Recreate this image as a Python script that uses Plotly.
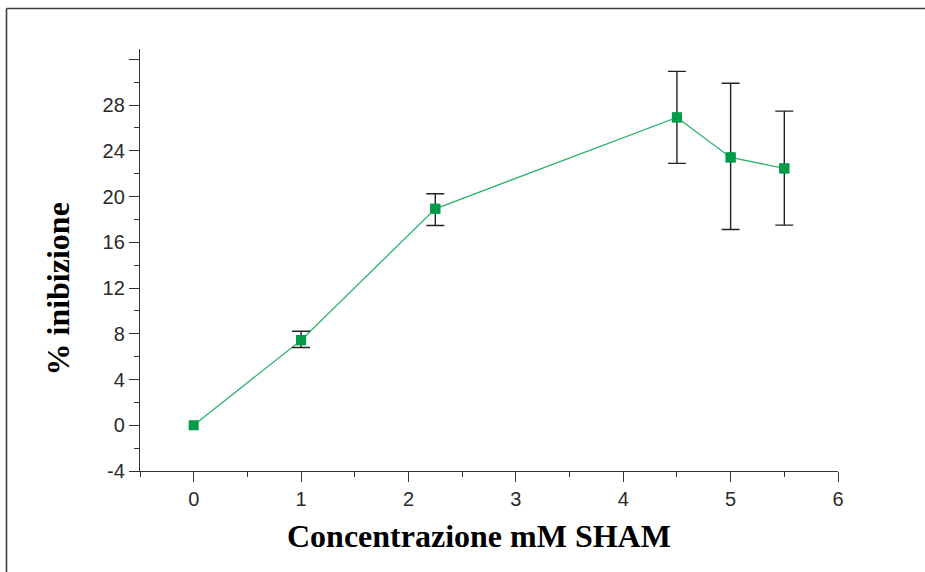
import plotly.graph_objects as go

# Data
conc_mM = [0, 1, 2.25, 4.5, 5, 5.5]
inhibition_pct = [0.0, 7.44, 18.93, 26.92, 23.42, 22.46]
# error bars (the first point, at 0 mM, has none)
err_plus = [None, 0.78, 1.31, 4.02, 6.48, 5.01]
err_minus = [None, 0.64, 1.46, 4.02, 6.30, 4.96]

y_tick_vals = [-4, 0, 4, 8, 12, 16, 20, 24, 28, 32]
y_tick_text = ["-4", "0", "4", "8", "12", "16", "20", "24", "28", ""]
x_tick_vals = [0, 1, 2, 3, 4, 5, 6]
x_tick_text = ["0", "1", "2", "3", "4", "5", "6"]

x_title = "Concentrazione mM SHAM"
y_title = "% inibizione"

W, H = 925, 572
ML, MR, MT, MB = 140, 87, 49, 101
pw, ph = W - ML - MR, H - MT - MB


def px_x(px):
    return (px - ML) / pw


def px_y(py):
    return (H - MB - py) / ph


marker_style = dict(symbol="square", size=10, color="#009b48")

fig = go.Figure()
fig.add_trace(go.Scatter(
    x=conc_mM,
    y=inhibition_pct,
    mode="lines+markers",
    line=dict(color="#2fb36b", width=1.3),
    marker=marker_style,
    showlegend=False,
))

idx = [i for i, e in enumerate(err_plus) if e is not None]
fig.add_trace(go.Scatter(
    x=[conc_mM[i] for i in idx],
    y=[inhibition_pct[i] for i in idx],
    mode="markers",
    marker=marker_style,
    error_y=dict(type="data", symmetric=False,
                 array=[err_plus[i] for i in idx],
                 arrayminus=[err_minus[i] for i in idx],
                 color="#222222", thickness=1.4, width=9),
    showlegend=False,
))

axis_font = dict(family="Liberation Sans, Arial, sans-serif", size=20, color="#2a2a2a")

fig.update_xaxes(
    range=[-0.5, 6], showline=True, linecolor="#333333", linewidth=1.4,
    showgrid=False, zeroline=False,
    tickmode="array", tickvals=x_tick_vals, ticktext=x_tick_text,
    ticks="outside", ticklen=10, tickwidth=1.3, tickcolor="#333333",
    tickfont=axis_font,
    minor=dict(dtick=0.5, tick0=0, ticks="outside", ticklen=5, tickwidth=1.3,
               tickcolor="#333333", showgrid=False),
)
fig.update_yaxes(
    range=[-4, 32.9], showline=True, linecolor="#333333", linewidth=1.4,
    showgrid=False, zeroline=False,
    tickmode="array", tickvals=y_tick_vals, ticktext=y_tick_text,
    ticks="outside", ticklen=10, tickwidth=1.3, tickcolor="#333333",
    tickfont=axis_font,
    minor=dict(dtick=2, tick0=0, ticks="outside", ticklen=5, tickwidth=1.3,
               tickcolor="#333333", showgrid=False),
)

title_font = dict(family="Liberation Serif, Times New Roman, serif", size=32, color="#000000")
fig.add_annotation(text="<b>" + x_title + "</b>", xref="paper", yref="paper",
                   x=px_x(479), y=px_y(536), xanchor="center", yanchor="middle",
                   showarrow=False, font=title_font)
fig.add_annotation(text="<b>" + y_title + "</b>", xref="paper", yref="paper",
                   x=px_x(57), y=px_y(289.5), xanchor="center", yanchor="middle",
                   textangle=-90, showarrow=False, font=title_font)

# outer frame (top and left edges)
fx, fy = px_x(6.5), px_y(8.5)
fig.add_shape(type="line", xref="paper", yref="paper", x0=fx, y0=fy, x1=1.3, y1=fy,
              line=dict(color="#3c3c3c", width=1.6))
fig.add_shape(type="line", xref="paper", yref="paper", x0=fx, y0=fy, x1=fx, y1=-0.4,
              line=dict(color="#3c3c3c", width=1.6))

fig.update_layout(
    width=W, height=H,
    margin=dict(l=ML, r=MR, t=MT, b=MB),
    paper_bgcolor="white", plot_bgcolor="white",
)

fig.write_html("out.html")
